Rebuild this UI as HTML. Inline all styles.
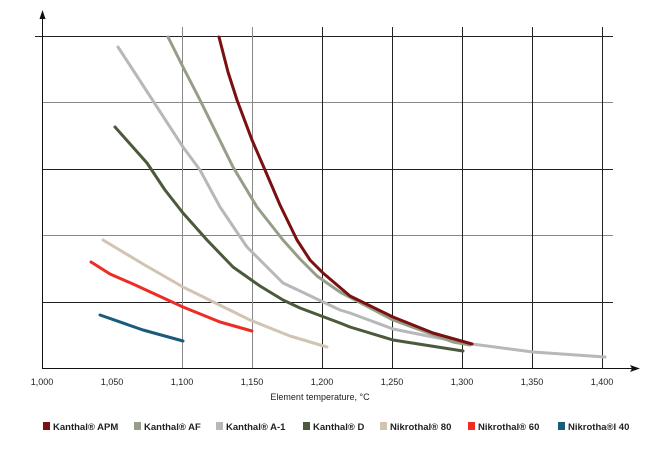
<!DOCTYPE html>
<html><head><meta charset="utf-8"><style>
body{margin:0;background:#fff;width:671px;height:450px;overflow:hidden}
svg{display:block}
text{font-family:"Liberation Sans",sans-serif}
</style></head><body>
<svg width="671" height="450" viewBox="0 0 671 450">
<g stroke-width="1" fill="none">
<line x1="35" y1="36.5" x2="613" y2="36.5" stroke="#222"/>
<line x1="42" y1="102.5" x2="613" y2="102.5" stroke="#888"/>
<line x1="42" y1="169.5" x2="613" y2="169.5" stroke="#222"/>
<line x1="42" y1="235.5" x2="613" y2="235.5" stroke="#888"/>
<line x1="42" y1="302.5" x2="613" y2="302.5" stroke="#222"/>
<line x1="182.5" y1="27" x2="182.5" y2="368" stroke="#888"/>
<line x1="252.5" y1="27" x2="252.5" y2="368" stroke="#888"/>
<line x1="322.5" y1="27" x2="322.5" y2="368" stroke="#222"/>
<line x1="392.5" y1="27" x2="392.5" y2="368" stroke="#222"/>
<line x1="462.5" y1="27" x2="462.5" y2="368" stroke="#222"/>
<line x1="532.5" y1="27" x2="532.5" y2="368" stroke="#222"/>
<line x1="602.5" y1="27" x2="602.5" y2="368" stroke="#222"/>
<line x1="42.5" y1="14" x2="42.5" y2="368" stroke="#111"/>
<line x1="42" y1="368.5" x2="634" y2="368.5" stroke="#111"/>
</g>
<polygon points="42.5,10 39.5,19 45.5,19" fill="#111"/>
<polygon points="640,368.5 630,365 632,368.5 630,372" fill="#111"/>
<g fill="none" stroke-width="3" stroke-linecap="round" stroke-linejoin="round">
<path d="M118,47 L133,70 L157,107 L183,147 L200,170 L220,207 L247,247 L283,283 L300,291 L340,310 L350,313 L393,329 L433,337 L472,344 L533,352 L605,357" stroke="#b8b8b8"/>
<path d="M168,37 L183,67 L200,100 L233,167 L257,207 L283,240 L300,259 L317,276 L340,292 L393,320 L453,342 L470,345" stroke="#959f88"/>
<path d="M219,37 L228,72 L237,100 L252,140 L265,170 L280,205 L297,240 L310,260 L323,273 L350,296 L393,317 L433,333 L472,344" stroke="#7a1010"/>
<path d="M115,127 L147,163 L165,190 L183,213 L207,240 L233,267 L260,286 L283,300 L300,308 L340,323 L350,327 L393,340 L463,351" stroke="#4a5a3a"/>
<path d="M103,240 L143,264 L183,287 L250,320 L290,336 L327,347" stroke="#d2c4b2"/>
<path d="M91,262 L110,274 L133,284 L183,307 L220,322 L252,331" stroke="#ee2b24"/>
<path d="M100,315 L143,330 L183,341" stroke="#1a5a7a"/>
</g>
<g font-size="9" fill="#222" text-anchor="middle">
<text x="42" y="385">1,000</text><text x="112" y="385">1,050</text><text x="182" y="385">1,100</text>
<text x="252" y="385">1,150</text><text x="322" y="385">1,200</text><text x="392" y="385">1,250</text>
<text x="462" y="385">1,300</text><text x="532" y="385">1,350</text><text x="602" y="385">1,400</text>
<text x="320" y="400">Element temperature, °C</text>
</g>
<g font-size="9.5" font-weight="bold" fill="#222">
<rect x="43" y="422" width="7" height="8" fill="#7a1010"/><text x="53" y="430">Kanthal® APM</text>
<rect x="134" y="422" width="7" height="8" fill="#959f88"/><text x="144" y="430">Kanthal® AF</text>
<rect x="216" y="422" width="7" height="8" fill="#b8b8b8"/><text x="226" y="430">Kanthal® A-1</text>
<rect x="303" y="422" width="7" height="8" fill="#4a5a3a"/><text x="313" y="430">Kanthal® D</text>
<rect x="380" y="422" width="7" height="8" fill="#d2c4b2"/><text x="390" y="430">Nikrothal® 80</text>
<rect x="468" y="422" width="7" height="8" fill="#ee2b24"/><text x="478" y="430">Nikrothal® 60</text>
<rect x="558" y="422" width="7" height="8" fill="#1a5a7a"/><text x="568" y="430">Nikrotha®l 40</text>
</g>
</svg>
</body></html>
